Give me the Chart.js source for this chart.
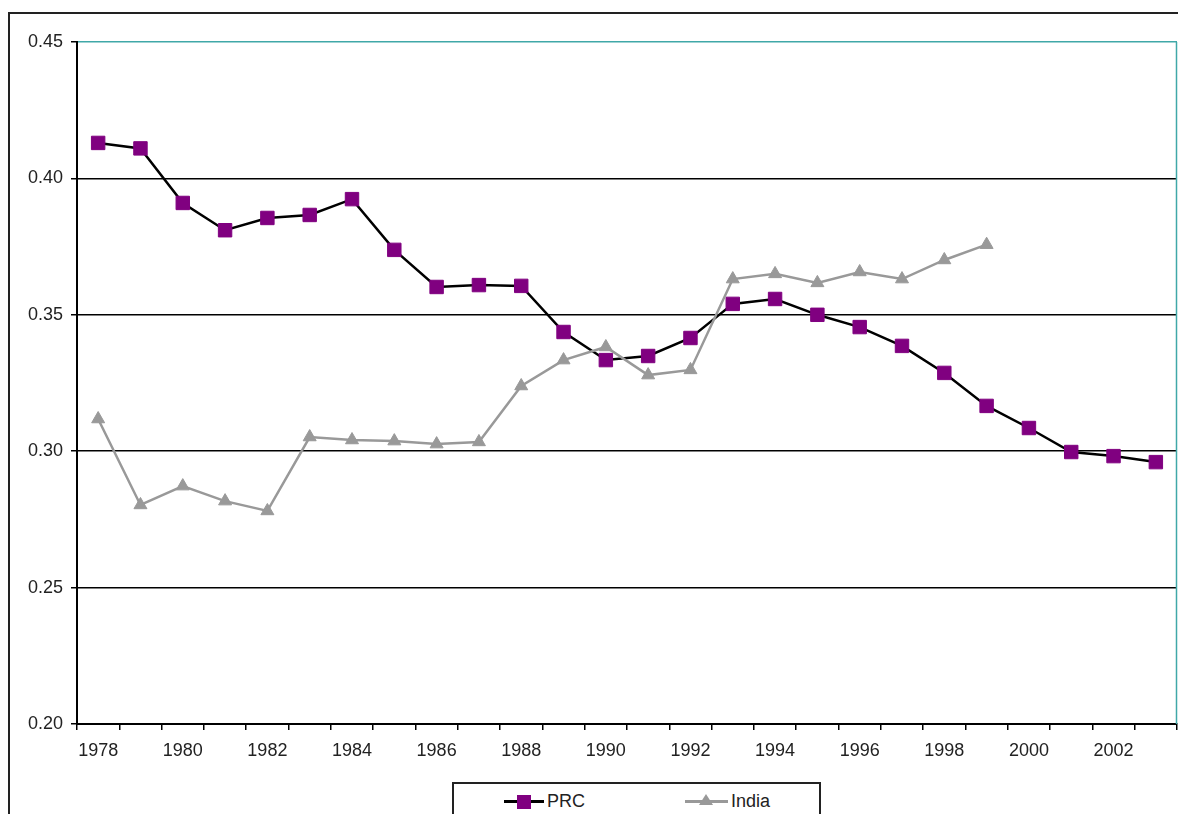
<!DOCTYPE html>
<html>
<head>
<meta charset="utf-8">
<script src="https://cdn.jsdelivr.net/npm/chart.js@4/dist/chart.umd.min.js"></script>
<style>
  html, body { margin: 0; padding: 0; background: #fff; overflow: hidden; }
  body { width: 1178px; height: 814px; position: relative; font-family: "Liberation Sans", Arial, sans-serif; }
  #frame { position: absolute; left: 8px; top: 12px; width: 1300px; height: 900px; border: 2px solid #222; }
  #wrap { position: absolute; left: 0; top: 0; width: 1178px; height: 814px; }
  #legend { position: absolute; left: 452px; top: 782px; width: 365px; height: 60px; border: 2px solid #222; background: #fff; }
  .item { position: absolute; top: 6px; height: 22px; font-size: 18px; color: #222; line-height: 22px; }
  .sample { position: absolute; top: 10px; height: 3px; }
  .sq { position: absolute; width: 14px; height: 14px; background: #800080; top: -5px; }
  .tri { position: absolute; width: 0; height: 0; border-left: 7px solid transparent; border-right: 7px solid transparent; border-bottom: 11px solid #999; top: -6px; }
</style>
</head>
<body>
<div id="frame"></div>
<div id="wrap"><canvas id="chart" width="1178" height="814"></canvas></div>
<div id="legend">
  <div class="item" style="left:50px;">
    <div class="sample" style="left:0; width:40px; background:#000;"><div class="sq" style="left:13px;"></div></div>
    <span style="position:absolute; left:43px;">PRC</span>
  </div>
  <div class="item" style="left:231px;">
    <div class="sample" style="left:0; width:43px; background:#999;"><div class="tri" style="left:14px;"></div></div>
    <span style="position:absolute; left:46px;">India</span>
  </div>
</div>
<script>
// Data
const years = ['1978','1979','1980','1981','1982','1983','1984','1985','1986','1987','1988','1989','1990',
               '1991','1992','1993','1994','1995','1996','1997','1998','1999','2000','2001','2002','2003'];
const prc = [0.413, 0.411, 0.391, 0.381, 0.3855, 0.3866, 0.3924, 0.3738, 0.3602, 0.3609, 0.3606, 0.3437, 0.3334,
             0.3349, 0.3415, 0.354, 0.3558, 0.350, 0.3455, 0.3386, 0.3287, 0.3166, 0.3085, 0.2997, 0.2982, 0.296];
const india = [0.3118, 0.2803, 0.2872, 0.2817, 0.2781, 0.3052, 0.3041, 0.3037, 0.3026, 0.3034, 0.3239, 0.3334, 0.3382,
               0.3279, 0.3298, 0.3631, 0.3650, 0.3617, 0.3657, 0.3631, 0.3701, 0.3757, null, null, null, null];
const yMin = 0.20, yMax = 0.45, yStep = 0.05;

const teal = '#40a8a8';
const font = { family: '"Liberation Sans", Arial, sans-serif', size: 18 };

// teal right edge of the plot area
const plotEdge = {
  id: 'plotEdge',
  afterDraw(chart) {
    const a = chart.chartArea, c = chart.ctx;
    c.save();
    c.strokeStyle = teal;
    c.lineWidth = 1.5;
    c.beginPath();
    c.moveTo(a.right - 0.5, a.top);
    c.lineTo(a.right - 0.5, a.bottom);
    c.stroke();
    c.restore();
  }
};

new Chart(document.getElementById('chart'), {
  type: 'line',
  data: {
    labels: years,
    datasets: [
      {
        label: 'PRC',
        data: prc,
        borderColor: '#000',
        borderWidth: 2.5,
        pointStyle: 'rect',
        pointRadius: 9.5,
        pointBackgroundColor: '#800080',
        pointBorderColor: '#800080',
        pointBorderWidth: 1,
        tension: 0,
        order: 1,
      },
      {
        label: 'India',
        data: india,
        borderColor: '#999',
        borderWidth: 2.5,
        pointStyle: 'triangle',
        pointRadius: 7.5,
        pointBackgroundColor: '#999',
        pointBorderColor: '#999',
        pointBorderWidth: 1,
        tension: 0,
        spanGaps: false,
        order: 0,
      }
    ]
  },
  options: {
    responsive: false,
    animation: false,
    events: [],
    layout: { autoPadding: false, padding: { left: 0, top: 42, right: 1, bottom: 0 } },
    plugins: { legend: { display: false }, tooltip: { enabled: false } },
    scales: {
      x: {
        type: 'category',
        offset: true,
        afterFit(s) { s.height = 90; s.paddingLeft = 0; s.paddingRight = 0; },
        grid: { offset: true, drawOnChartArea: false, tickLength: 6, color: '#000', lineWidth: 1.5 },
        border: { color: '#000', width: 2 },
        ticks: {
          autoSkip: false, maxRotation: 0, padding: 10, color: '#222', font: font,
          callback: (v, i) => (i % 2 === 0 ? years[i] : '')
        }
      },
      y: {
        min: yMin, max: yMax,
        afterFit(s) { s.width = 77; s.paddingTop = 0; s.paddingBottom = 0; },
        grid: {
          tickLength: 6, lineWidth: 1.5, tickColor: '#000',
          color: ctx => (ctx.tick && Math.abs(ctx.tick.value - yMax) < 1e-6 ? teal : '#000')
        },
        border: { color: '#000', width: 2 },
        ticks: { stepSize: yStep, padding: 8, color: '#222', font: font, callback: v => v.toFixed(2) }
      }
    }
  },
  plugins: [plotEdge]
});
</script>
</body>
</html>
